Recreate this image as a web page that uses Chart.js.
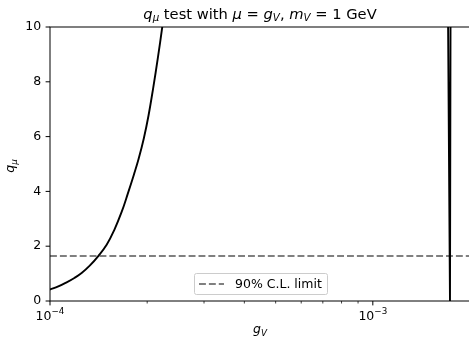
<!DOCTYPE html>
<html><head><meta charset="utf-8">
<script src="https://cdn.jsdelivr.net/npm/chart.js@4.4.1/dist/chart.umd.min.js"></script>
<style>html,body{margin:0;padding:0;overflow:hidden;background:#fff;width:469px;height:340px}canvas{display:block}</style>
</head><body>
<canvas id="c" width="475" height="340" style="width:475px;height:340px"></canvas>
<script>
// ---- data ----
const gLow  = [1.000e-4, 1.061e-4, 1.126e-4, 1.190e-4, 1.253e-4, 1.330e-4, 1.411e-4, 1.498e-4, 1.580e-4, 1.667e-4, 1.740e-4, 1.820e-4, 1.880e-4, 1.954e-4, 2.020e-4, 2.088e-4, 2.160e-4, 2.227e-4, 2.260e-4];
const qLow  = [0.42, 0.53, 0.68, 0.84, 1.02, 1.30, 1.64, 2.05, 2.58, 3.25, 3.90, 4.62, 5.17, 5.95, 6.78, 7.78, 8.90, 10.0, 10.6];
const gHigh = [1.709e-3, 1.734e-3, 1.741e-3];
const qHigh = [10.8, 0.0, 10.8];
const limitValue = 1.64;
const xRange = [1e-4, 2e-3];
const yRange = [0, 10];
const yTicks = [0, 2, 4, 6, 8, 10];
const xMajorTicks = [1e-4, 1e-3];
const xTickExponents = ['\u22124', '\u22123'];
const xMinorTicks = [2e-4, 3e-4, 4e-4, 5e-4, 6e-4, 7e-4, 8e-4, 9e-4, 2e-3];
const legendLabel = '90% C.L. limit';

const FONT = '"DejaVu Sans"';
const FS = 12.5, TFS = 14.7;
function segFont(s, size){ const sz = (s.sub || s.sup) ? size*0.7 : size; return (s.i ? 'italic ' : '') + sz + 'px ' + FONT; }
function richWidth(ctx, segs, size){ let w = 0; for (const s of segs){ ctx.font = segFont(s,size); w += ctx.measureText(s.t).width; } return w; }
function drawRich(ctx, segs, cx, y, size){
  let x = cx - richWidth(ctx, segs, size)/2;
  ctx.textAlign = 'left'; ctx.textBaseline = 'alphabetic';
  for (const s of segs){
    ctx.font = segFont(s,size);
    const dy = s.sub ? size*0.2 : (s.sup ? -size*0.48 : 0);
    ctx.fillText(s.t, x, y + dy); x += ctx.measureText(s.t).width;
  }
}
const titleSegs = [{t:'q',i:1},{t:'\u03BC',i:1,sub:1},{t:' test with '},{t:'\u03BC',i:1},{t:' = '},{t:'g',i:1},{t:'V',i:1,sub:1},{t:', '},{t:'m',i:1},{t:'V',i:1,sub:1},{t:' = 1 GeV'}];
const xLabelSegs = [{t:'g',i:1},{t:'V',i:1,sub:1}];
const yLabelSegs = [{t:'q',i:1},{t:'\u03BC',i:1,sub:1}];

const decor = {
  id: 'decor',
  afterDraw(chart){
    const ctx = chart.ctx, a = chart.chartArea, xs = chart.scales.x, ys = chart.scales.y;
    ctx.save();
    ctx.strokeStyle = '#000'; ctx.lineWidth = 1;
    ctx.strokeRect(a.left, a.top, a.right - a.left, a.bottom - a.top);
    ctx.beginPath();
    for (const v of yTicks){ const p = ys.getPixelForValue(v); ctx.moveTo(a.left - 4.4, p); ctx.lineTo(a.left, p); }
    for (const v of xMajorTicks){ const p = xs.getPixelForValue(v); ctx.moveTo(p, a.bottom); ctx.lineTo(p, a.bottom + 4.4); }
    ctx.stroke();
    ctx.lineWidth = 0.75; ctx.beginPath();
    for (const v of xMinorTicks){ const p = xs.getPixelForValue(v); ctx.moveTo(p, a.bottom); ctx.lineTo(p, a.bottom + 2.5); }
    ctx.stroke();
    // x tick labels (10 with superscript exponent)
    ctx.fillStyle = '#000';
    xMajorTicks.forEach((v, k) => {
      drawRich(ctx, [{t:'10'},{t:xTickExponents[k], sup:1}], xs.getPixelForValue(v), a.bottom + 19, FS);
    });
    // legend
    const lx = 194, ly = 273, lw = 133, lh = 21;
    ctx.fillStyle = 'rgba(255,255,255,0.8)'; ctx.strokeStyle = '#cccccc'; ctx.lineWidth = 1;
    ctx.beginPath(); ctx.roundRect(lx + 0.5, ly + 0.5, lw, lh, 2); ctx.fill(); ctx.stroke();
    ctx.strokeStyle = '#808080'; ctx.lineWidth = 1.9; ctx.setLineDash([6.9, 3]);
    ctx.beginPath(); ctx.moveTo(199, ly + 11); ctx.lineTo(224, ly + 11); ctx.stroke();
    ctx.setLineDash([]);
    ctx.fillStyle = '#000'; ctx.font = FS + 'px ' + FONT; ctx.textAlign = 'left'; ctx.textBaseline = 'middle';
    ctx.fillText(legendLabel, 235, ly + 11.5);
    // title & axis labels
    drawRich(ctx, titleSegs, (a.left + a.right)/2, 18.5, TFS);
    drawRich(ctx, xLabelSegs, (a.left + a.right)/2, 333, FS);
    ctx.save(); ctx.translate(14, (a.top + a.bottom)/2 + 2); ctx.rotate(-Math.PI/2);
    drawRich(ctx, yLabelSegs, 0, 0, FS); ctx.restore();
    ctx.restore();
  }
};

const line = { borderWidth:1.9, pointRadius:0, clip:0 };
new Chart(document.getElementById('c'), {
  type: 'line',
  data: {
    datasets: [
      Object.assign({ data: gLow.map((g,i)=>({x:g, y:qLow[i]})), borderColor:'#000', tension:0.4 }, line),
      Object.assign({ data: gHigh.map((g,i)=>({x:g, y:qHigh[i]})), borderColor:'#000', tension:0 }, line),
      Object.assign({ data: xRange.map(g=>({x:g, y:limitValue})), borderColor:'#808080', borderDash:[6.9,3] }, line)
    ]
  },
  options: {
    responsive:false, animation:false, devicePixelRatio:1,
    layout:{ padding:{ top:27, right:5, left:0, bottom:0 } },
    plugins:{ legend:{display:false}, title:{display:false}, tooltip:{enabled:false} },
    scales:{
      x:{ type:'logarithmic', min:xRange[0], max:xRange[1],
        afterBuildTicks(s){ s.ticks = xMajorTicks.concat(xMinorTicks).sort((p,q)=>p-q).map(v=>({value:v, major: xMajorTicks.includes(v)})); },
        afterFit(s){ s.height = 39; s.paddingLeft = 0; s.paddingRight = 0; },
        grid:{ display:false, drawTicks:false }, border:{display:false},
        ticks:{ display:false } },
      y:{ type:'linear', min:yRange[0], max:yRange[1],
        afterBuildTicks(s){ s.ticks = yTicks.map(v=>({value:v})); },
        afterFit(s){ s.width = 50; s.paddingTop = 0; s.paddingBottom = 0; },
        grid:{ display:false, drawTicks:false }, border:{display:false},
        ticks:{ padding:8.8, color:'#000', font:{family:'DejaVu Sans', size:FS}, callback(v){ return String(v); } } }
    }
  },
  plugins:[decor]
});
</script>
</body></html>
